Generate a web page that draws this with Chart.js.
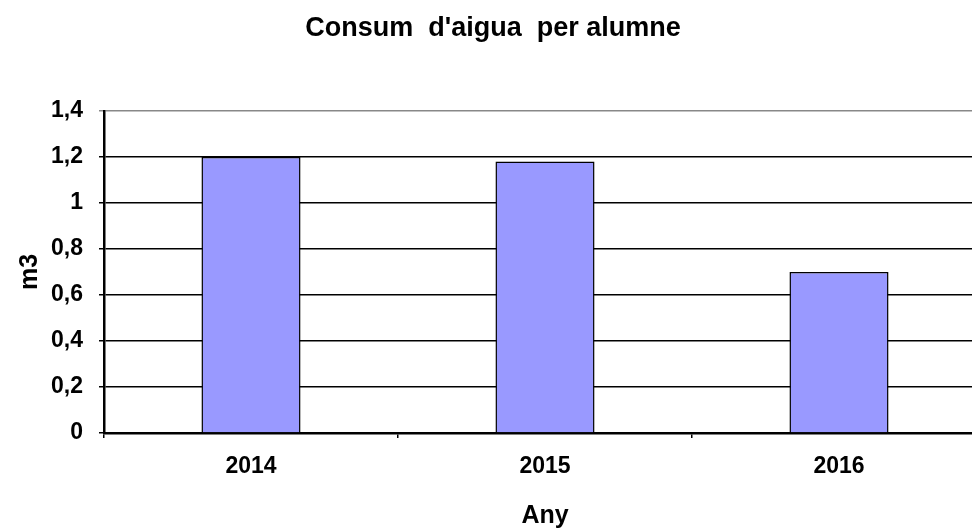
<!DOCTYPE html>
<html>
<head>
<meta charset="utf-8">
<script src="https://cdn.jsdelivr.net/npm/chart.js@4/dist/chart.umd.min.js"></script>
<style>
  html, body { margin: 0; padding: 0; background: #fff; overflow: hidden; }
  #wrap { width: 972px; height: 531px; overflow: hidden; }
</style>
</head>
<body>
<div id="wrap"><canvas id="myChart" width="988" height="531"></canvas></div>
<script>
// dades del grafic
var anys = ['2014', '2015', '2016'];
var consum = [1.2, 1.18, 0.7];
var yTickLabels = ['0', '0,2', '0,4', '0,6', '0,8', '1', '1,2', '1,4'];

var font = "'Liberation Sans', Arial, sans-serif";

var myData = {
  labels: anys,
  datasets: [{
    label: 'm3',
    data: consum,
    backgroundColor: '#9999FF',
    borderColor: '#000000',
    borderWidth: 1.5,
    categoryPercentage: 1,
    barPercentage: 0.337
  }]
};

var myConfig = {
  type: 'bar',
  data: myData,
  options: {
    responsive: false,
    animation: false,
    layout: { padding: { left: 0, right: 2, top: 0, bottom: 0 } },
    plugins: {
      legend: { display: false },
      tooltip: { enabled: false },
      title: {
        display: true,
        text: "Consum  d'aigua  per alumne",
        color: '#000',
        font: { family: font, size: 27, weight: 'bold', lineHeight: 1.2 },
        padding: { top: 12, bottom: 66.6 }
      }
    },
    scales: {
      x: {
        grid: {
          offset: true,
          drawOnChartArea: false,
          color: '#000',
          tickLength: 5,
          lineWidth: 1.5
        },
        border: { color: '#000', width: 2.5 },
        ticks: {
          color: '#000',
          padding: 15,
          font: { family: font, size: 23, weight: 'bold' }
        },
        title: {
          display: true,
          text: 'Any',
          color: '#000',
          font: { family: font, size: 25, weight: 'bold' },
          padding: { top: 10, bottom: 0 }
        },
        afterFit: function(scale) { scale.height = 98; }
      },
      y: {
        min: 0,
        max: 1.4,
        grid: {
          color: function(ctx) {
            return ctx.tick && ctx.tick.value >= 1.4 ? '#888888' : '#000000';
          },
          lineWidth: 1.5,
          tickLength: 5
        },
        border: { color: '#000', width: 2.5 },
        ticks: {
          stepSize: 0.2,
          color: '#000',
          padding: 16,
          font: { family: font, size: 23, weight: 'bold' },
          callback: function(value, index) { return yTickLabels[index]; }
        },
        title: {
          display: true,
          text: 'm3',
          color: '#000',
          font: { family: font, size: 25, weight: 'bold' },
          padding: { top: 15, bottom: 0 }
        },
        afterFit: function(scale) { scale.width = 104; }
      }
    }
  }
};

var ctx1 = document.getElementById('myChart').getContext('2d');
var myBar = new Chart(ctx1, myConfig);
</script>
</body>
</html>
